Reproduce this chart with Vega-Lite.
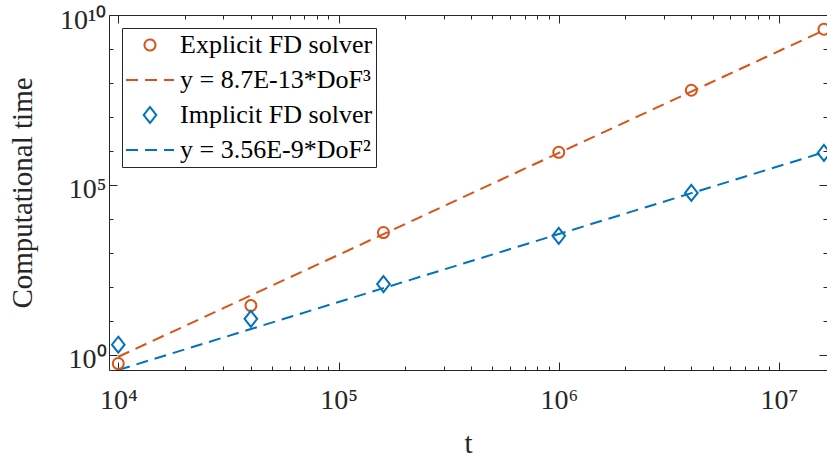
{
  "$schema": "https://vega.github.io/schema/vega-lite/v6.json",
  "width": 718,
  "height": 355,
  "autosize": {"type": "none"},
  "padding": {"left": 109, "top": 15, "right": 0, "bottom": 91},
  "background": "white",
  "config": {
    "view": {"stroke": null},
    "font": "Liberation Serif",
    "axis": {
      "labelFont": "Liberation Serif",
      "titleFont": "Liberation Serif",
      "labelColor": "#262626",
      "titleColor": "#262626",
      "domainColor": "#262626",
      "tickColor": "#262626",
      "grid": false,
      "labelFontSize": 28,
      "titleFontSize": 29,
      "titleFontWeight": "normal",
      "labelOverlap": false,
      "labelBound": false,
      "labelFlush": false
    }
  },
  "datasets": {
    "measured": [
      {"t": 10000, "time": 0.55, "series": "Explicit FD solver"},
      {"t": 40000, "time": 28, "series": "Explicit FD solver"},
      {"t": 160000, "time": 3950, "series": "Explicit FD solver"},
      {"t": 1000000, "time": 910000, "series": "Explicit FD solver"},
      {"t": 4000000, "time": 61000000, "series": "Explicit FD solver"},
      {"t": 16000000, "time": 3800000000, "series": "Explicit FD solver"},
      {"t": 10000, "time": 1.97, "series": "Implicit FD solver"},
      {"t": 40000, "time": 11.4, "series": "Implicit FD solver"},
      {"t": 160000, "time": 120, "series": "Implicit FD solver"},
      {"t": 1000000, "time": 3160, "series": "Implicit FD solver"},
      {"t": 4000000, "time": 58000, "series": "Implicit FD solver"},
      {"t": 16000000, "time": 870000, "series": "Implicit FD solver"}
    ],
    "fits": [
      {"t": 10000, "time": 0.87, "series": "y = 8.7E-13*DoF³"},
      {"t": 40000, "time": 55.68, "series": "y = 8.7E-13*DoF³"},
      {"t": 160000, "time": 3563.5, "series": "y = 8.7E-13*DoF³"},
      {"t": 1000000, "time": 870000, "series": "y = 8.7E-13*DoF³"},
      {"t": 4000000, "time": 55680000, "series": "y = 8.7E-13*DoF³"},
      {"t": 16000000, "time": 3563500000, "series": "y = 8.7E-13*DoF³"},
      {"t": 10000, "time": 0.356, "series": "y = 3.56E-9*DoF²"},
      {"t": 40000, "time": 5.696, "series": "y = 3.56E-9*DoF²"},
      {"t": 160000, "time": 91.14, "series": "y = 3.56E-9*DoF²"},
      {"t": 1000000, "time": 3560, "series": "y = 3.56E-9*DoF²"},
      {"t": 4000000, "time": 56960, "series": "y = 3.56E-9*DoF²"},
      {"t": 16000000, "time": 911360, "series": "y = 3.56E-9*DoF²"}
    ]
  },
  "resolve": {"axis": {"x": "independent", "y": "independent"}},
  "layer": [
    {
      "data": {"name": "fits"},
      "mark": {"type": "line", "strokeWidth": 2, "clip": true},
      "encoding": {
        "x": {
          "field": "t",
          "type": "quantitative",
          "scale": {"type": "log", "domain": [9075, 16520000], "nice": false},
          "axis": {
            "orient": "bottom",
            "title": "t",
            "titlePadding": 11,
            "values": [10000, 20000, 30000, 40000, 50000, 60000, 70000, 80000, 90000, 100000, 200000, 300000, 400000, 500000, 600000, 700000, 800000, 900000, 1000000, 2000000, 3000000, 4000000, 5000000, 6000000, 7000000, 8000000, 9000000, 10000000],
            "labelExpr": "datum.value == 10000 ? '10⁴' : datum.value == 100000 ? '10⁵' : datum.value == 1000000 ? '10⁶' : datum.value == 10000000 ? '10⁷' : ''",
            "tickSize": {"condition": {"test": "abs(log(datum.value)/LN10 - round(log(datum.value)/LN10)) < 1e-6", "value": -8}, "value": -4},
            "labelPadding": 24
          }
        },
        "y": {
          "field": "time",
          "type": "quantitative",
          "scale": {"type": "log", "domain": [0.355, 10000000000], "nice": false},
          "axis": {
            "orient": "left",
            "title": "Computational time",
            "titlePadding": 22,
            "values": [1, 10, 100, 1000, 10000, 100000, 1000000, 10000000, 100000000, 1000000000, 10000000000],
            "labelExpr": "datum.value == 1 ? '10⁰' : datum.value == 100000 ? '10⁵' : datum.value == 10000000000 ? '10¹⁰' : ''",
            "tickSize": {"condition": {"test": "abs(log(datum.value)/LN10 - round(log(datum.value)/LN10)) < 1e-6 && (round(log(datum.value)/LN10) % 5 == 0)", "value": -8}, "value": -4},
            "labelPadding": 11,
            "labelOffset": 5
          }
        },
        "color": {
          "field": "series",
          "type": "nominal",
          "scale": {
            "domain": ["Explicit FD solver", "y = 8.7E-13*DoF³", "Implicit FD solver", "y = 3.56E-9*DoF²"],
            "range": ["#D95319", "#D95319", "#0072BD", "#0072BD"]
          },
          "legend": {
            "title": null,
            "orient": "top-left",
            "offset": 13,
            "padding": 3,
            "strokeColor": "#262626",
            "fillColor": "white",
            "cornerRadius": 0,
            "labelFont": "Liberation Serif",
            "labelFontSize": 26,
            "labelColor": "black",
            "labelLimit": 400,
            "labelOffset": 5,
            "symbolStrokeWidth": 2,
            "clipHeight": 28,
            "rowPadding": 7
          }
        },
        "strokeDash": {
          "field": "series",
          "type": "nominal",
          "scale": {
            "domain": ["Explicit FD solver", "y = 8.7E-13*DoF³", "Implicit FD solver", "y = 3.56E-9*DoF²"],
            "range": [[1, 0], [12, 7], [1, 0], [12, 7]]
          }
        }
      }
    },
    {
      "data": {"name": "measured"},
      "mark": {"type": "point", "filled": false, "strokeWidth": 2, "opacity": 1},
      "encoding": {
        "x": {"field": "t", "type": "quantitative", "axis": null},
        "y": {"field": "time", "type": "quantitative", "axis": null},
        "color": {"field": "series", "type": "nominal"},
        "shape": {
          "field": "series",
          "type": "nominal",
          "scale": {
            "domain": ["Explicit FD solver", "y = 8.7E-13*DoF³", "Implicit FD solver", "y = 3.56E-9*DoF²"],
            "range": ["circle", "stroke", "M0,-1.45L1.15,0L0,1.45L-1.15,0Z", "stroke"]
          }
        },
        "size": {
          "field": "series",
          "type": "nominal",
          "scale": {
            "type": "ordinal",
            "domain": ["Explicit FD solver", "y = 8.7E-13*DoF³", "Implicit FD solver", "y = 3.56E-9*DoF²"],
            "range": [121, 2304, 121, 2304]
          }
        }
      }
    },
    {
      "data": {"name": "measured"},
      "mark": {"type": "rule", "strokeWidth": 0},
      "encoding": {
        "x": {
          "field": "t",
          "type": "quantitative",
          "axis": {
            "orient": "top",
            "title": null,
            "labels": false,
            "values": [10000, 20000, 30000, 40000, 50000, 60000, 70000, 80000, 90000, 100000, 200000, 300000, 400000, 500000, 600000, 700000, 800000, 900000, 1000000, 2000000, 3000000, 4000000, 5000000, 6000000, 7000000, 8000000, 9000000, 10000000],
            "tickSize": {"condition": {"test": "abs(log(datum.value)/LN10 - round(log(datum.value)/LN10)) < 1e-6", "value": -8}, "value": -4}
          }
        },
        "y": {
          "field": "time",
          "type": "quantitative",
          "axis": {
            "orient": "right",
            "title": null,
            "labels": false,
            "values": [1, 10, 100, 1000, 10000, 100000, 1000000, 10000000, 100000000, 1000000000, 10000000000],
            "tickSize": {"condition": {"test": "abs(log(datum.value)/LN10 - round(log(datum.value)/LN10)) < 1e-6 && (round(log(datum.value)/LN10) % 5 == 0)", "value": -8}, "value": -4}
          }
        }
      }
    }
  ]
}
